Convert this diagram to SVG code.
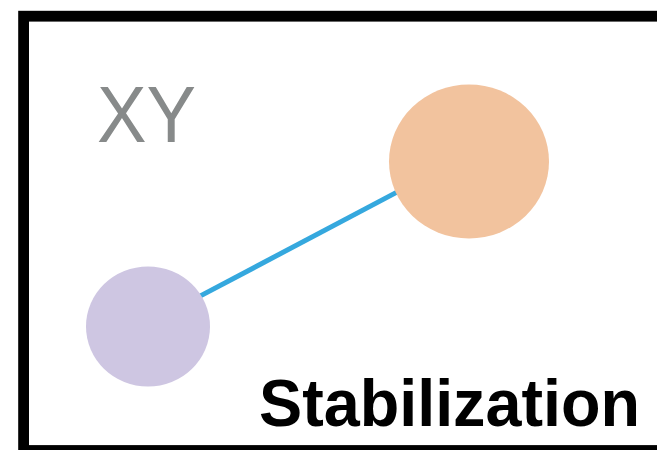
<svg xmlns="http://www.w3.org/2000/svg" width="657" height="450" viewBox="0 0 657 450">
  <style>
    .frame { fill: none; stroke: #000; stroke-width: 10.8; }
    .edge { stroke: #35a8de; stroke-width: 5; fill: none; }
    .label { font-family: "Liberation Sans", Arial, sans-serif; }
    .title { fill: #878a8a; font-size: 79px; }
    .caption { fill: #000; font-size: 67px; font-weight: bold; }
  </style>
  <rect width="657" height="450" fill="#fff"/>
  <!-- outer frame, open past the right and bottom edges -->
  <rect class="frame" x="23.6" y="16.2" width="660" height="434.3"/>
  <text class="label title" x="97" y="142" textLength="99" lengthAdjust="spacingAndGlyphs">XY</text>
  <g id="connectors">
    <line class="edge" x1="190" y1="301.4" x2="405" y2="187.9"/>
  </g>
  <g id="node-a">
    <ellipse cx="148" cy="326.5" rx="62" ry="60" fill="#cec6e2"/>
  </g>
  <g id="node-b">
    <ellipse cx="469" cy="161.5" rx="80" ry="77" fill="#f2c39e"/>
  </g>
  <text class="label caption" x="259" y="426" textLength="381" lengthAdjust="spacingAndGlyphs">Stabilization</text>
</svg>
